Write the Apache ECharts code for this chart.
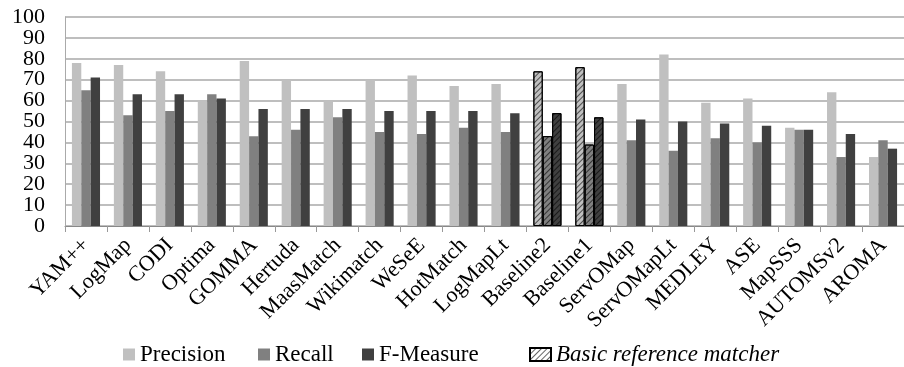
<!DOCTYPE html>
<html><head><meta charset="utf-8">
<script src="https://cdn.jsdelivr.net/npm/echarts@6/dist/echarts.min.js"></script>
<style>html,body{margin:0;padding:0;background:#fff}#c{width:904px;height:367px}</style>
</head><body><div id="c"></div>
<script>
const categories = ['YAM++','LogMap','CODI','Optima','GOMMA','Hertuda','MaasMatch','Wikimatch','WeSeE','HotMatch','LogMapLt','Baseline2','Baseline1','ServOMap','ServOMapLt','MEDLEY','ASE','MapSSS','AUTOMSv2','AROMA'];
const precision = [78,77,74,60,79,70,60,70,72,67,68,74,76,68,82,59,61,47,64,33];
const recall    = [65,53,55,63,43,46,52,45,44,47,45,43,39,41,36,42,40,46,33,41];
const fmeasure  = [71,63,63,61,56,56,56,55,55,55,54,54,52,51,50,49,48,46,44,37];
const baselines = ['Baseline2','Baseline1'];
const yTicks = [0,10,20,30,40,50,60,70,80,90,100];

const decal = {symbol:'rect', symbolSize:1, dashArrayX:[1,0], dashArrayY:[1,2.5], rotation:-Math.PI/4, color:'rgba(0,0,0,0.6)'};
function mk(vals){
  return vals.map((v,i)=> baselines.includes(categories[i])
    ? {value:v, itemStyle:{decal:decal, borderColor:'#000', borderWidth:1}}
    : v);
}
const font = '"Liberation Serif","Times New Roman",serif';
const legText = {fontFamily:font, fontSize:23, color:'#000'};
function leg(name, left, w, extra){
  return Object.assign({data:[name], left:left, top:343, icon:'rect', itemWidth:w||12, itemHeight:12, itemGap:8,
    textStyle:legText, selectedMode:false, padding:0}, extra||{});
}
const yMin = yTicks[0], yMax = yTicks[yTicks.length-1];
const labelBase = {fontFamily:font, fontSize:22, color:'#000', margin:20, hideOverlap:false};
const chart = echarts.init(document.getElementById('c'), null, {renderer:'canvas'});
chart.setOption({
  animation:false,
  aria:{enabled:false},
  grid:{left:65, right:-7, top:17, bottom:141, containLabel:false},
  legend:[
    leg('Precision',123),
    leg('Recall',258),
    leg('F-Measure',362),
    leg({name:'Basic reference matcher', textStyle:{fontStyle:'italic'}},529,21,{itemHeight:13, itemGap:8})
  ],
  xAxis:{
    type:'category', data:categories,
    axisLine:{lineStyle:{color:'#888', width:1}},
    axisTick:{show:true, length:6, lineStyle:{color:'#999'}},
    axisLabel:{rotate:45, fontFamily:font, fontSize:22, color:'#000', interval:0, margin:16}
  },
  yAxis:[{
    type:'value', min:yMin, max:yMax, interval:10, position:'left',
    axisLine:{show:true, lineStyle:{color:'#aaa'}},
    axisTick:{show:false},
    axisLabel:Object.assign({}, labelBase, {showMinLabel:true, showMaxLabel:true,
      formatter:v=> (v/10)%2===0 ? String(v) : ''}),
    splitLine:{lineStyle:{color:'#a8a8a8', width:1.5}}
  },{
    type:'value', min:yMin, max:yMax, interval:10, position:'left', offset:0,
    axisLine:{show:false}, axisTick:{show:false}, splitLine:{show:false},
    axisLabel:Object.assign({}, labelBase, {showMinLabel:false, showMaxLabel:false,
      formatter:v=> (v/10)%2===1 ? String(v) : ''})
  }],
  series:[
    {name:'Precision', type:'bar', data:mk(precision), itemStyle:{color:'#c0c0c0'}, barGap:'0%', barCategoryGap:'33%'},
    {name:'Recall', type:'bar', data:mk(recall), itemStyle:{color:'#808080'}},
    {name:'F-Measure', type:'bar', data:mk(fmeasure), itemStyle:{color:'#404040'}, stack:'f'},
    {name:'Basic reference matcher', type:'bar', data:[], stack:'f', itemStyle:{color:'#fff', borderColor:'#000', borderWidth:1, decal:decal}}
  ]
});
</script></body></html>
